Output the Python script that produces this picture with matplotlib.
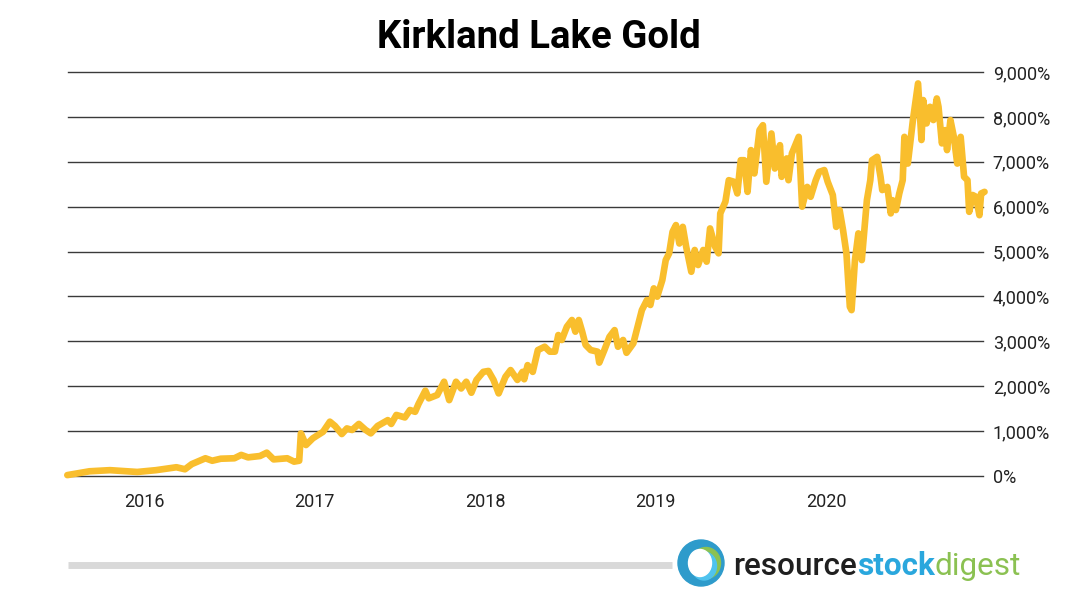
import matplotlib.pyplot as plt
from matplotlib.patches import Ellipse

plt.rcParams['font.family'] = ['Roboto', 'DejaVu Sans']

# date as decimal year, cumulative gain in %
years = [
    2015.55, 2015.68, 2015.80, 2015.96, 2016.07, 2016.19, 2016.24, 2016.28, 2016.36, 2016.40,
    2016.45, 2016.53, 2016.57, 2016.61, 2016.68, 2016.72, 2016.76, 2016.84, 2016.88, 2016.91,
    2016.92, 2016.95, 2016.99, 2017.05, 2017.09, 2017.12, 2017.16, 2017.19, 2017.22, 2017.26,
    2017.30, 2017.33, 2017.37, 2017.43, 2017.45, 2017.48, 2017.53, 2017.56, 2017.59, 2017.61,
    2017.65, 2017.67, 2017.72, 2017.76, 2017.79, 2017.83, 2017.86, 2017.89, 2017.92, 2017.95,
    2017.99, 2018.02, 2018.05, 2018.08, 2018.12, 2018.15, 2018.19, 2018.22, 2018.23, 2018.25,
    2018.28, 2018.31, 2018.35, 2018.38, 2018.41, 2018.43, 2018.45, 2018.48, 2018.51, 2018.53,
    2018.55, 2018.57, 2018.59, 2018.62, 2018.66, 2018.67, 2018.70, 2018.73, 2018.76, 2018.78,
    2018.81, 2018.83, 2018.87, 2018.89, 2018.92, 2018.95, 2018.97, 2018.99, 2019.01, 2019.04,
    2019.06, 2019.08, 2019.10, 2019.12, 2019.14, 2019.16, 2019.18, 2019.21, 2019.23, 2019.25,
    2019.28, 2019.30, 2019.32, 2019.35, 2019.37, 2019.38, 2019.41, 2019.43, 2019.46, 2019.48,
    2019.50, 2019.52, 2019.54, 2019.56, 2019.58, 2019.61, 2019.63, 2019.65, 2019.68, 2019.70,
    2019.73, 2019.74, 2019.77, 2019.78, 2019.80, 2019.84, 2019.86, 2019.89, 2019.91, 2019.94,
    2019.96, 2019.99, 2020.01, 2020.04, 2020.06, 2020.08, 2020.10, 2020.12, 2020.14, 2020.15,
    2020.17, 2020.19, 2020.21, 2020.23, 2020.24, 2020.26, 2020.27, 2020.30, 2020.32, 2020.33,
    2020.36, 2020.38, 2020.39, 2020.41, 2020.43, 2020.45, 2020.46, 2020.48, 2020.51, 2020.54,
    2020.56, 2020.57, 2020.59, 2020.61, 2020.63, 2020.65, 2020.66, 2020.68, 2020.70, 2020.71,
    2020.73, 2020.75, 2020.77, 2020.79, 2020.81, 2020.83, 2020.84, 2020.86, 2020.88, 2020.90,
    2020.91, 2020.93,
]
gain = [
    20, 105, 130, 90, 130, 195, 150, 265, 395, 340,
    385, 395, 470, 415, 445, 520, 370, 395, 320, 340,
    950, 690, 840, 985, 1210, 1115, 935, 1060, 1025, 1160,
    1025, 950, 1115, 1245, 1160, 1360, 1305, 1470, 1430, 1605,
    1900, 1730, 1805, 2100, 1690, 2100, 1950, 2100, 1855, 2140,
    2320, 2340, 2140, 1840, 2210, 2360, 2140, 2320, 2155, 2470,
    2320, 2805, 2880, 2770, 2770, 3140, 3030, 3325, 3475, 3215,
    3475, 3215, 2920, 2805, 2770, 2525, 2805, 3100, 3250, 2880,
    3030, 2745, 2955, 3250, 3695, 3920, 3810, 4180, 3995, 4365,
    4810, 4960, 5440, 5590, 5180, 5550, 5105, 4550, 5035, 4700,
    5035, 4775, 5515, 5105, 4960, 5850, 6110, 6590, 6555, 6295,
    7035, 7035, 6330, 7260, 6740, 7705, 7815, 6555, 7630, 6850,
    7370, 6665, 7075, 6590, 7185, 7555, 6000, 6440, 6220, 6590,
    6775, 6815, 6555, 6260, 5550, 5925, 5480, 4960, 3770, 3695,
    4810, 5405, 4810, 5700, 6145, 6590, 7035, 7110, 6665, 6370,
    6440, 5850, 6145, 5925, 6295, 6590, 7555, 6960, 7930, 8745,
    7485, 8375, 7855, 8225, 7930, 8410, 8225, 7410, 7705, 7260,
    7930, 7555, 6960, 7555, 6665, 6590, 5885, 6260, 6220, 5810,
    6295, 6330,
]

year_ticks = [2016, 2017, 2018, 2019, 2020]
pct_ticks = [0, 1000, 2000, 3000, 4000, 5000, 6000, 7000, 8000, 9000]

W, H = 1080, 608
fig = plt.figure(figsize=(W / 100, H / 100), dpi=100)

ax = fig.add_axes([68 / W, 1 - 476 / H, (983 - 68) / W, (476 - 72) / H])
ax.plot(years, gain, color='#F9BE2D', lw=4.8, solid_joinstyle='round',
        solid_capstyle='round', clip_on=False, zorder=3)
ax.set_xlim(2015.554, 2020.921)
ax.set_ylim(0, 9000)
ax.yaxis.tick_right()
ax.set_yticks(pct_ticks)
ax.set_yticklabels([f'{v:,}%' for v in pct_ticks])
ax.set_xticks(year_ticks)
ax.set_xticklabels([str(y) for y in year_ticks])
ax.tick_params(length=0, labelsize=13, colors='#222222')
ax.tick_params(axis='y', pad=7)
ax.tick_params(axis='x', pad=12)
ax.grid(axis='y', color='#3a3a3a', lw=1)
for gl in ax.get_ygridlines():
    gl.set_clip_on(False)
ax.set_axisbelow(True)
for s in ax.spines.values():
    s.set_visible(False)

fig.text(539 / W, 1 - 48 / H, 'Kirkland Lake Gold', ha='center', va='baseline',
         fontsize=27.6, fontweight='bold', color='black')

# footer: grey rule + logo, drawn in pixel units
fa = fig.add_axes([0, 0, 1, 1])
fa.set_xlim(0, W)
fa.set_ylim(H, 0)
fa.axis('off')
fa.patch.set_visible(False)
fa.plot([68, 672], [565, 565], color='#d9d9d9', lw=5, solid_capstyle='butt')
fa.add_patch(Ellipse((701, 563), 46, 46, color='#2E9BCB'))
fa.add_patch(Ellipse((706, 563), 29, 31, color='#8BC152'))
fa.add_patch(Ellipse((704, 566), 25, 28, color='#4FC3EE'))
fa.add_patch(Ellipse((700, 563), 23, 27, color='white'))

words = [('resource', '#1f1f1f', 'medium'), ('stock', '#2AA7DD', 'bold'), ('digest', '#8BC152', 'normal')]
renderer = fig.canvas.get_renderer()
size = 24
texts = []
x = 733
for w, c, fw in words:
    t = fa.text(x, 575, w, color=c, fontsize=size, fontweight=fw, va='baseline', ha='left')
    bb = t.get_window_extent(renderer)
    x += bb.width
    texts.append(t)
scale = (1022 - 733) / (x - 733)
x = 733
for t in texts:
    t.set_fontsize(size * scale)
    t.set_x(x)
    x += t.get_window_extent(renderer).width

fig.savefig('out.png', dpi=100)
